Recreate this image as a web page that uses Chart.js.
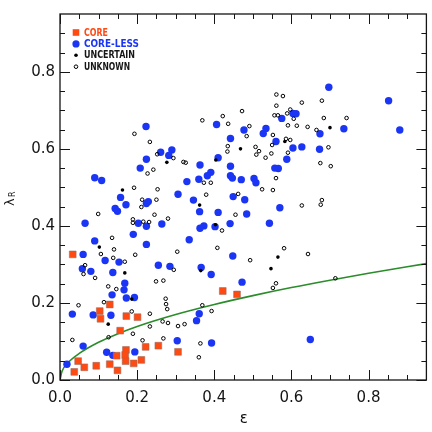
<!DOCTYPE html>
<html>
<head>
<meta charset="utf-8">
<script src="https://cdn.jsdelivr.net/npm/chart.js@4.4.1/dist/chart.umd.min.js"></script>
<style>
  html, body { margin: 0; padding: 0; background: #fff; }
  #wrap { width: 432px; height: 432px; }
</style>
</head>
<body>
<div id="wrap"><canvas id="chart" width="432" height="432"></canvas></div>
<script>
// axis ticks
const xTicks = [0, 0.2, 0.4, 0.6, 0.8];
const yTicks = [0, 0.2, 0.4, 0.6, 0.8];

// CORE (red squares)
const coreEps = [0.033, 0.103, 0.105, 0.129, 0.172, 0.201, 0.156, 0.171, 0.169, 0.147, 0.222, 0.255,
  0.047, 0.063, 0.037, 0.094, 0.129, 0.149, 0.170, 0.191, 0.211, 0.306, 0.422, 0.459];
const coreLam = [0.326, 0.179, 0.159, 0.196, 0.166, 0.163, 0.128, 0.078, 0.065, 0.063, 0.086, 0.089,
  0.049, 0.033, 0.021, 0.037, 0.041, 0.025, 0.049, 0.043, 0.052, 0.073, 0.231, 0.222];

// CORE-LESS (blue circles)
const corelessEps = [0.223, 0.090, 0.108, 0.261, 0.290, 0.282, 0.224, 0.208, 0.157, 0.171, 0.143, 0.149,
  0.229, 0.224, 0.065, 0.203, 0.224, 0.264, 0.190, 0.090, 0.224, 0.306,
  0.060, 0.117, 0.153, 0.058, 0.080, 0.137, 0.168, 0.166, 0.135, 0.172, 0.193, 0.032,
  0.086, 0.132, 0.060, 0.121, 0.137, 0.194, 0.018, 0.255, 0.285, 0.304,
  0.406, 0.477, 0.534, 0.527, 0.575, 0.442, 0.560, 0.588, 0.410, 0.442, 0.363, 0.391,
  0.382, 0.360, 0.329, 0.442, 0.447, 0.470, 0.503, 0.508, 0.557, 0.566, 0.346, 0.449,
  0.479, 0.362, 0.410, 0.484, 0.441, 0.373, 0.363, 0.402, 0.543, 0.570, 0.335,
  0.448, 0.366, 0.392, 0.472, 0.361, 0.354, 0.393,
  0.697, 0.852, 0.881, 0.736, 0.604, 0.612, 0.674, 0.673, 0.627, 0.604, 0.649];
const corelessLam = [0.658, 0.525, 0.518, 0.591, 0.597, 0.583, 0.573, 0.550, 0.474, 0.455, 0.445, 0.438,
  0.463, 0.458, 0.407, 0.407, 0.399, 0.405, 0.378, 0.361, 0.352, 0.482,
  0.326, 0.310, 0.306, 0.289, 0.282, 0.279, 0.251, 0.234, 0.221, 0.213, 0.214, 0.171,
  0.169, 0.168, 0.088, 0.072, 0.064, 0.073, 0.041, 0.298, 0.295, 0.102,
  0.663, 0.649, 0.653, 0.640, 0.679, 0.627, 0.619, 0.573, 0.577, 0.555, 0.558, 0.539,
  0.530, 0.521, 0.515, 0.530, 0.524, 0.520, 0.523, 0.512, 0.550, 0.549, 0.467, 0.476,
  0.468, 0.437, 0.435, 0.431, 0.406, 0.400, 0.394, 0.398, 0.407, 0.447, 0.364,
  0.322, 0.292, 0.274, 0.254, 0.172, 0.154, 0.096,
  0.760, 0.725, 0.649, 0.652, 0.692, 0.691, 0.639, 0.599, 0.605, 0.602, 0.105];

// UNCERTAIN (small black dots)
const uncertainEps = [0.162, 0.277, 0.102, 0.168, 0.186, 0.125, 0.468, 0.583, 0.362, 0.403, 0.365,
  0.565, 0.547, 0.700, 0.404];
const uncertainLam = [0.493, 0.565, 0.345, 0.278, 0.210, 0.145, 0.600, 0.619, 0.454, 0.403, 0.284,
  0.319, 0.289, 0.655, 0.571];

// UNKNOWN (open circles)
const unknownEps = [0.193, 0.233, 0.252, 0.294, 0.227, 0.242, 0.192, 0.253, 0.213, 0.250, 0.211, 0.099,
  0.245, 0.280, 0.189, 0.189, 0.216, 0.231, 0.135, 0.140,
  0.106, 0.138, 0.168, 0.195, 0.065, 0.061, 0.091, 0.125, 0.146, 0.249, 0.268, 0.114,
  0.048, 0.186, 0.233, 0.274, 0.275, 0.278, 0.189, 0.233, 0.266, 0.280, 0.126, 0.032,
  0.214, 0.268, 0.306, 0.323, 0.295,
  0.561, 0.578, 0.561, 0.556, 0.565, 0.589, 0.597, 0.591, 0.422, 0.472, 0.369, 0.436,
  0.491, 0.484, 0.552, 0.550, 0.586, 0.597, 0.591, 0.548, 0.435, 0.434, 0.507, 0.516,
  0.509, 0.533, 0.320, 0.326, 0.373, 0.391, 0.560, 0.524, 0.552, 0.462, 0.379, 0.455,
  0.420, 0.408, 0.581,
  0.304, 0.493, 0.560, 0.552, 0.369, 0.393, 0.364, 0.360,
  0.627, 0.679, 0.606, 0.684, 0.743, 0.614, 0.642, 0.665, 0.696, 0.675, 0.702, 0.627,
  0.679, 0.676, 0.643, 0.714];
const unknownLam = [0.639, 0.618, 0.586, 0.576, 0.536, 0.546, 0.499, 0.495, 0.468, 0.468, 0.449, 0.431,
  0.429, 0.419, 0.417, 0.408, 0.411, 0.410, 0.369, 0.339,
  0.327, 0.317, 0.307, 0.325, 0.298, 0.275, 0.265, 0.243, 0.236, 0.256, 0.258, 0.202,
  0.194, 0.178, 0.172, 0.211, 0.197, 0.184, 0.120, 0.139, 0.152, 0.148, 0.111, 0.104,
  0.103, 0.108, 0.140, 0.145, 0.286,
  0.741, 0.737, 0.712, 0.687, 0.687, 0.692, 0.702, 0.661, 0.685, 0.698, 0.674, 0.665,
  0.659, 0.633, 0.636, 0.610, 0.626, 0.623, 0.590, 0.588, 0.607, 0.593, 0.605, 0.594,
  0.585, 0.577, 0.566, 0.564, 0.512, 0.512, 0.524, 0.495, 0.493, 0.483, 0.481, 0.429,
  0.388, 0.343, 0.342,
  0.333, 0.311, 0.251, 0.239, 0.194, 0.179, 0.095, 0.059,
  0.720, 0.725, 0.678, 0.680, 0.680, 0.660, 0.657, 0.649, 0.604, 0.563, 0.555, 0.453,
  0.467, 0.455, 0.327, 0.264];

// green dividing curve
const curveEps = [0, 0.005, 0.02, 0.05, 0.1, 0.15, 0.2, 0.3, 0.4, 0.5, 0.6, 0.7, 0.8, 0.95];
const curveLam = [0, 0.022, 0.044, 0.069, 0.098, 0.120, 0.139, 0.170, 0.196, 0.219, 0.240, 0.259, 0.277, 0.302];

const RED = '#ff4a12';
const BLUE = '#1b35f5';
const INK = '#151515';

function pts(xs, ys) {
  return xs.map((x, i) => ({ x: x, y: ys[i] }));
}

// Frame with inward ticks on all four sides
const frameTicks = {
  id: 'frameTicks',
  afterDraw(chart) {
    const ctx = chart.ctx;
    const { left, right, top, bottom } = chart.chartArea;
    const xs = chart.scales.x, ys = chart.scales.y;
    ctx.save();
    ctx.strokeStyle = INK;
    ctx.lineWidth = 1.3;
    ctx.strokeRect(left, top, right - left, bottom - top);
    ctx.lineWidth = 1;
    for (let k = 0; k <= 19; k++) {
      const v = k * 0.05;
      const major = k % 4 === 0;
      const len = major ? 10 : 5;
      const px = Math.round(xs.getPixelForValue(v)) + 0.5;
      const py = Math.round(ys.getPixelForValue(v)) + 0.5;
      ctx.beginPath();
      if (px < right - 1) {
        ctx.moveTo(px, bottom); ctx.lineTo(px, bottom - len);
        ctx.moveTo(px, top); ctx.lineTo(px, top + len);
      }
      if (py > top + 1) {
        ctx.moveTo(left, py); ctx.lineTo(left + len, py);
        ctx.moveTo(right, py); ctx.lineTo(right - len, py);
      }
      ctx.stroke();
    }

    // axis titles
    ctx.fillStyle = INK;
    ctx.font = '15px "DejaVu Sans"';
    ctx.textAlign = 'center';
    ctx.textBaseline = 'alphabetic';
    ctx.fillText('\u03b5', (left + right) / 2 + 0.5, 423);

    ctx.save();
    ctx.translate(14, 206);
    ctx.rotate(-Math.PI / 2);
    ctx.textAlign = 'left';
    ctx.font = '13px "DejaVu Sans"';
    ctx.fillText('\u03bb', 0, 0);
    ctx.font = '8px "DejaVu Sans"';
    ctx.fillText('R', 9, 1);
    ctx.restore();

    // legend
    const rows = [
      { label: 'CORE', color: RED, w: 24 },
      { label: 'CORE-LESS', color: BLUE, w: 55 },
      { label: 'UNCERTAIN', color: INK, w: 51 },
      { label: 'UNKNOWN', color: INK, w: 46 }
    ];
    const mx = 76, tx = 84, y0 = 32.5, dy = 11.4;
    ctx.textAlign = 'left';
    ctx.textBaseline = 'middle';
    ctx.font = '600 10px "DejaVu Sans"';
    rows.forEach((r, i) => {
      const y = y0 + i * dy;
      if (i === 0) {
        ctx.fillStyle = RED;
        ctx.fillRect(mx - 3.3, y - 3.3, 6.6, 6.6);
      } else if (i === 1) {
        ctx.fillStyle = BLUE;
        ctx.beginPath(); ctx.arc(mx, y, 3.6, 0, Math.PI * 2); ctx.fill();
      } else if (i === 2) {
        ctx.fillStyle = '#000';
        ctx.beginPath(); ctx.arc(mx, y, 1.8, 0, Math.PI * 2); ctx.fill();
      } else {
        ctx.strokeStyle = '#000';
        ctx.lineWidth = 1;
        ctx.beginPath(); ctx.arc(mx, y, 1.8, 0, Math.PI * 2); ctx.stroke();
      }
      ctx.fillStyle = r.color;
      ctx.fillText(r.label, tx, y + 0.5, r.w);
    });
    ctx.restore();
  }
};

new Chart(document.getElementById('chart'), {
  type: 'scatter',
  data: {
    datasets: [
      {
        label: 'CORE',
        data: pts(coreEps, coreLam),
        pointStyle: 'rect',
        pointRadius: 4.8,
        backgroundColor: RED,
        borderColor: 'rgba(150,110,100,0.7)',
        borderWidth: 0.8,
        order: 0
      },
      {
        label: 'UNCERTAIN',
        data: pts(uncertainEps, uncertainLam),
        pointRadius: 1.8,
        backgroundColor: '#000',
        borderWidth: 0,
        order: 1
      },
      {
        label: 'UNKNOWN',
        data: pts(unknownEps, unknownLam),
        pointRadius: 1.8,
        backgroundColor: 'rgba(255,255,255,0)',
        borderColor: '#000',
        borderWidth: 1,
        order: 2
      },
      {
        label: 'CORE-LESS',
        data: pts(corelessEps, corelessLam),
        pointRadius: 3.7,
        backgroundColor: BLUE,
        borderWidth: 0,
        order: 3
      },
      {
        type: 'line',
        label: 'curve',
        data: pts(curveEps, curveLam),
        borderColor: '#2a8c2a',
        borderWidth: 1.6,
        pointRadius: 0,
        cubicInterpolationMode: 'monotone',
        fill: false,
        order: 4
      }
    ]
  },
  options: {
    responsive: false,
    animation: false,
    devicePixelRatio: 1,
    layout: { padding: { top: 12, right: 4, bottom: 0, left: 0 } },
    plugins: {
      legend: { display: false },
      tooltip: { enabled: false }
    },
    scales: {
      x: {
        type: 'linear',
        min: 0,
        max: 0.95,
        afterBuildTicks: s => { s.ticks = xTicks.map(v => ({ value: v })); },
        afterFit: s => { s.height = 52; },
        grid: { display: false, drawTicks: false },
        border: { display: false },
        ticks: {
          padding: 9,
          color: INK,
          font: { family: 'DejaVu Sans', size: 15 },
          callback: v => v.toFixed(1)
        }
      },
      y: {
        type: 'linear',
        min: 0,
        max: 0.95,
        afterBuildTicks: s => { s.ticks = yTicks.map(v => ({ value: v })); },
        afterFit: s => { s.width = 60; },
        grid: { display: false, drawTicks: false },
        border: { display: false },
        ticks: {
          padding: 5,
          color: INK,
          font: { family: 'DejaVu Sans', size: 15 },
          callback: v => v.toFixed(1)
        }
      }
    }
  },
  plugins: [frameTicks]
});
</script>
</body>
</html>
